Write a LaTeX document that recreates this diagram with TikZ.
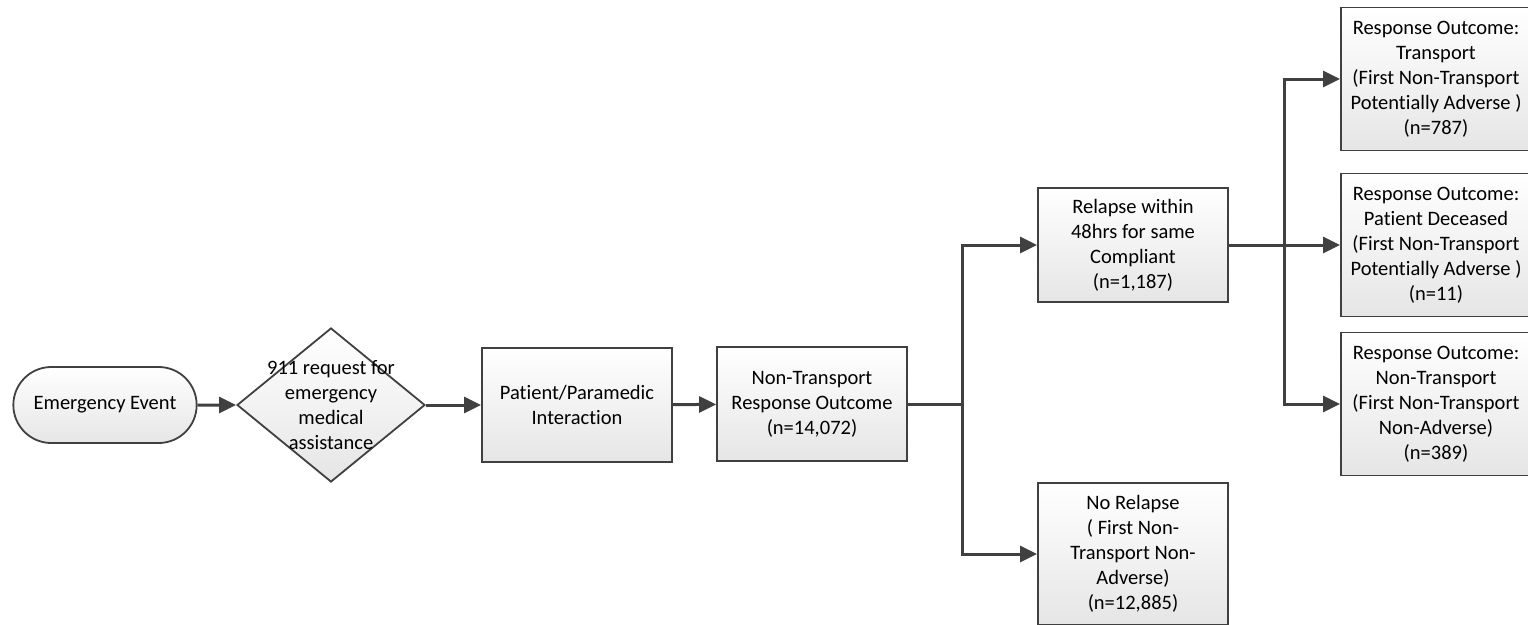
\documentclass[tikz,border=0pt]{standalone}
\usepackage{fontspec}
\setmainfont{Carlito}[Ligatures=NoCommon]
\usetikzlibrary{shapes.geometric,shapes.misc,arrows.meta}
\definecolor{linegray}{HTML}{404040}
\begin{document}
\begin{tikzpicture}[
    x=1pt, y=-1pt,
    boxfont/.style={font=\fontsize{20.5}{25}\selectfont, align=center},
    shade/.style={draw=linegray, line width=1.8pt, top color=white, bottom color=gray!20},
    termbox/.style={shade, boxfont, rounded rectangle, minimum width=190pt, minimum height=76pt},
    decbox/.style={shade, diamond, minimum width=188pt, minimum height=154pt, inner sep=0pt},
    procbox/.style={shade, boxfont, rectangle, minimum width=190pt, minimum height=114pt, inner sep=2pt},
    outbox/.style={procbox, minimum height=143pt},
    flow/.style={-{Triangle[length=17pt,width=16pt]}, line width=3pt, draw=linegray},
    link/.style={line width=3pt, draw=linegray},
]
\useasboundingbox (0,0) rectangle (1528,624);
\clip (0,0) rectangle (1528,624);
\node[termbox] (event) at (105,405) {Emergency Event};
\node[decbox, label={[boxfont]center:911 request for\\emergency\\medical\\assistance}] (request) at (331,405) {};
\node[procbox] (interact) at (577,405) {Patient/Paramedic\\Interaction};
\node[procbox] (nontransport) at (812,404) {Non-Transport\\Response Outcome\\(n=14,072)};
\node[procbox] (relapse) at (1133,245) {Relapse within\\48hrs for same\\Compliant\\(n=1,187)};
\node[outbox, minimum height=142pt] (norelapse) at (1133,554) {No Relapse\\( First Non-\\Transport Non-\\Adverse)\\(n=12,885)};
\node[outbox] (transport) at (1436,79) {Response Outcome:\\Transport\\(First Non-Transport\\Potentially Adverse )\\(n=787)};
\node[outbox] (deceased) at (1436,245) {Response Outcome:\\Patient Deceased\\(First Non-Transport\\Potentially Adverse )\\(n=11)};
\node[outbox] (nonadverse) at (1436,404) {Response Outcome:\\Non-Transport\\(First Non-Transport\\Non-Adverse)\\(n=389)};
\coordinate (split) at (962,404);
\coordinate (relsplit) at (1284,245);
% main line
\draw[flow] (event) -- (request);
\draw[flow] (request) -- (interact);
\draw[flow] (interact) -- (nontransport);
% first branch
\draw[link] (nontransport) -- (split);
\draw[flow] (split) |- (relapse);
\draw[flow] (split) |- (norelapse);
% relapse outcomes
\draw[link] (relapse) -- (relsplit);
\draw[flow] (relsplit) |- (transport);
\draw[flow] (relsplit) -- (deceased);
\draw[flow] (relsplit) |- (nonadverse);
\end{tikzpicture}
\end{document}
